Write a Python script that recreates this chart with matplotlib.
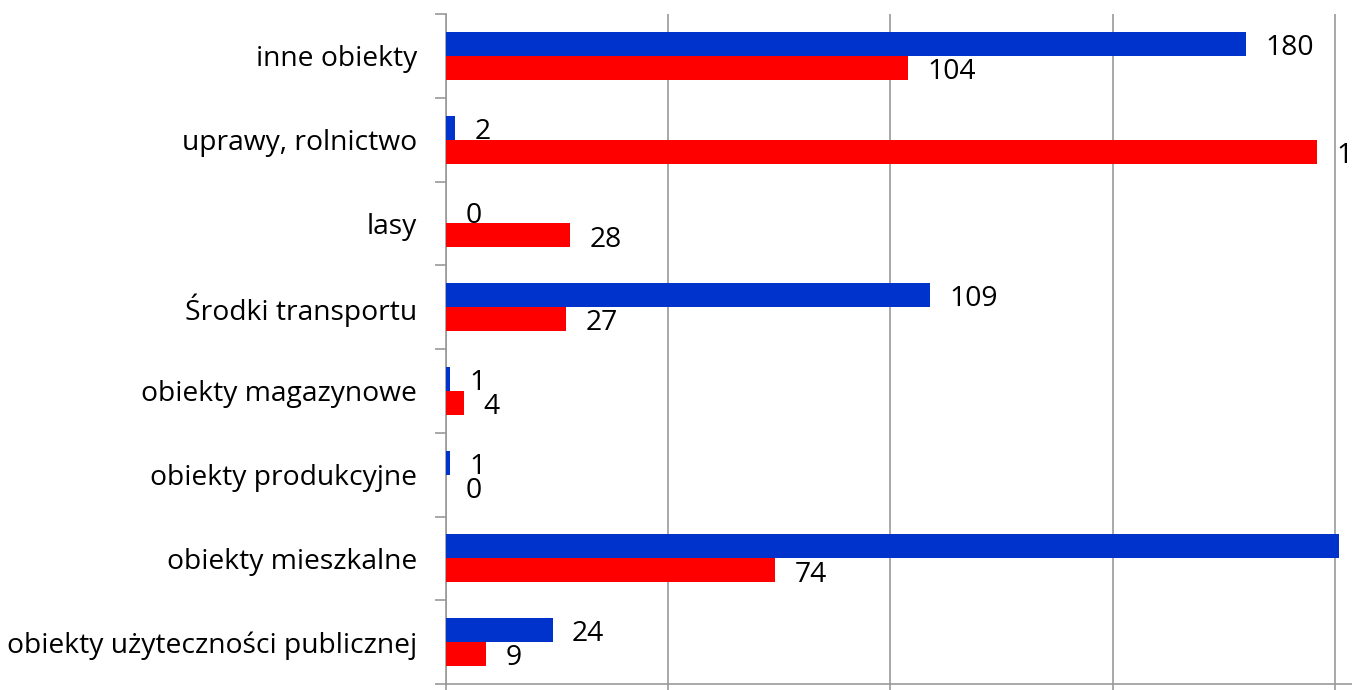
import matplotlib
matplotlib.use("Agg")
import matplotlib.pyplot as plt
import numpy as np

categories = ["obiekty użyteczności publicznej", "obiekty mieszkalne", "obiekty produkcyjne",
              "obiekty magazynowe", "Środki transportu", "lasy", "uprawy, rolnictwo", "inne obiekty"]
blue_vals = [24, 201, 1, 1, 109, 0, 2, 180]
red_vals = [9, 74, 0, 4, 27, 28, 196, 104]

plt.rcParams['font.family'] = ['Open Sans', 'DejaVu Sans']
FS = 20.3

fig = plt.figure(figsize=(13.52, 6.90), dpi=100)
ax = fig.add_axes([446/1352, 6/690, 1 - 446/1352, (684-14)/690])

y = np.arange(len(categories))
h = 0.287
ax.barh(y + h/2, blue_vals, height=h, color='#0033CC', linewidth=0, zorder=3)
ax.barh(y - h/2, red_vals, height=h, color='#FF0000', linewidth=0, zorder=3)

for yi, v in zip(y, blue_vals):
    ax.annotate(str(v), (v, yi + h/2), xytext=(14, -3), textcoords='offset points',
                ha='left', va='center', fontsize=FS, color='black', annotation_clip=False)
for yi, v in zip(y, red_vals):
    ax.annotate(str(v), (v, yi - h/2), xytext=(14, -3), textcoords='offset points',
                ha='left', va='center', fontsize=FS, color='black', annotation_clip=False)

ax.set_xlim(0, 906/4.444)
ax.set_ylim(-0.5, len(categories) - 0.5)

ax.set_xticks([0, 50, 100, 150, 200])
ax.set_xticklabels([])
ax.tick_params(axis='x', length=8, color='#999999', width=1.2)
ax.grid(axis='x', color='#999999', linewidth=1.2, zorder=0)

ax.set_yticks(y)
ax.set_yticklabels(categories, fontsize=FS)
ax.set_yticks(np.arange(-0.5, len(categories), 1.0), minor=True)
ax.tick_params(axis='y', which='major', length=0, pad=21)
ax.tick_params(axis='y', which='minor', length=8, color='#999999', width=1.2)

for s in ['top', 'right']:
    ax.spines[s].set_visible(False)
for s in ['left', 'bottom']:
    ax.spines[s].set_color('#999999')
    ax.spines[s].set_linewidth(1.2)

fig.savefig('out.png', dpi=100)
